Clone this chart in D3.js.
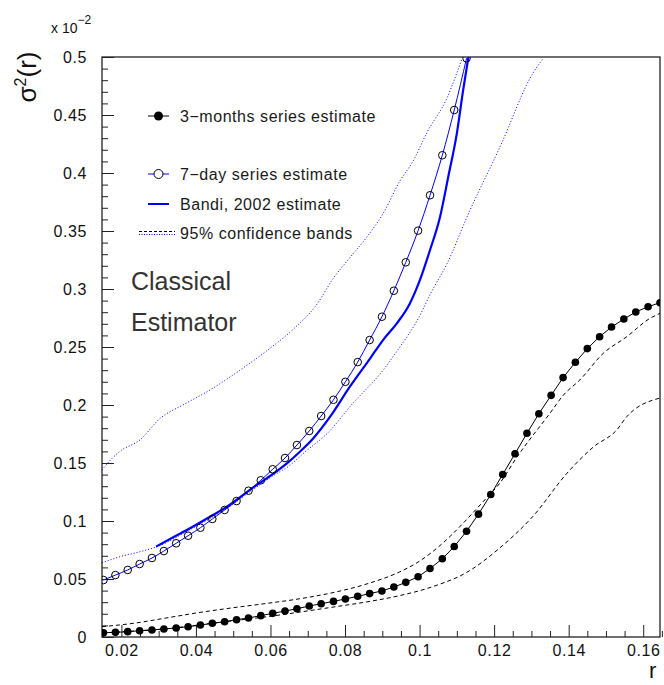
<!DOCTYPE html>
<html><head><meta charset="utf-8">
<script src="https://cdn.jsdelivr.net/npm/d3@7"></script>
<style>
body{margin:0;background:#fff}
text{font-family:"Liberation Sans",Arial,sans-serif;fill:#111}
</style>
</head><body>
<svg id="chart" width="664" height="685"></svg>
<script>
// ---------------- data (values in units of 10^-2) ----------------
const rGrid = [0.0152,0.0184,0.0217,0.0249,0.0282,0.0314,0.0347,0.0379,0.0412,0.0444,
  0.0477,0.0509,0.0541,0.0574,0.0606,0.0639,0.0671,0.0704,0.0736,0.0769,
  0.0801,0.0834,0.0866,0.0899,0.0931,0.0963,0.0996,0.1028,0.1061,0.1093,
  0.1126,0.1158,0.1191,0.1223,0.1256,0.1288,0.1320,0.1353,0.1385,0.1418,
  0.1450,0.1483,0.1515,0.1548,0.1580,0.1613,0.1645];

const monthsEstimate = [0.0037,0.0040,0.0046,0.0054,0.0060,0.0069,0.0078,0.0089,0.0103,0.0118,
  0.0132,0.0149,0.0164,0.0184,0.0204,0.0224,0.0244,0.0267,0.0287,0.0307,
  0.0328,0.0351,0.0374,0.0397,0.0431,0.0471,0.0520,0.0590,0.0674,0.0780,
  0.0911,0.1059,0.1228,0.1401,0.1580,0.1756,0.1925,0.2083,0.2236,0.2368,
  0.2486,0.2589,0.2672,0.2741,0.2802,0.2847,0.2882];

const dayEstimate = [0.0491,0.0534,0.0578,0.0629,0.0681,0.0741,0.0808,0.0873,0.0942,0.1017,
  0.1095,0.1172,0.1261,0.1351,0.1446,0.1543,0.1655,0.1776,0.1905,0.2045,
  0.2200,0.2370,0.2560,0.2761,0.2985,0.3230,0.3503,0.3808,0.4153,0.4543,0.4989];

const bandiR = [0.0293,0.0339,0.0384,0.0438,0.0483,0.0518,0.0554,0.0590,0.0644,0.0679,
  0.0715,0.0760,0.0813,0.0867,0.0902,0.0939,0.0974,0.1001,0.1028,0.1055,
  0.1077,0.1100,0.1117,0.1131];
const bandiEstimate = [0.0779,0.0860,0.0937,0.1037,0.1123,0.1204,0.1290,0.1368,0.1497,0.1597,
  0.1713,0.1899,0.2158,0.2400,0.2560,0.2704,0.2876,0.3078,0.3336,0.3623,
  0.3968,0.4342,0.4716,0.5000];

const monthsUpperR = [0.0148,0.0237,0.0322,0.0411,0.0499,0.0591,0.0679,0.0768,0.0859,0.0947,
  0.0993,0.1036,0.1082,0.1127,0.1170,0.1216,0.1261,0.1350,0.1386,0.1430,0.1493,0.1556,0.1618,0.1645];
const monthsUpper = [0.0089,0.0120,0.0165,0.0212,0.0252,0.0290,0.0330,0.0383,0.0458,0.0562,
  0.0640,0.0738,0.0868,0.1015,0.1165,0.1330,0.1550,0.1930,0.2086,0.2216,0.2446,0.2589,0.2747,0.2790];

const monthsLowerR = [0.0148,0.0229,0.0322,0.0411,0.0499,0.0591,0.0679,0.0768,0.0859,0.0947,
  0.1036,0.1127,0.1216,0.1304,0.1395,0.1467,0.1529,0.1556,0.1645];
const monthsLower = [0.0035,0.0050,0.0072,0.0105,0.0140,0.0175,0.0215,0.0258,0.0303,0.0357,
  0.0435,0.0558,0.0770,0.1040,0.1410,0.1640,0.1785,0.1900,0.2060];

const dayUpperR = [0.0148,0.0169,0.0196,0.0250,0.0304,0.0365,0.0438,0.0518,0.0591,0.0660,
  0.0725,0.0768,0.0813,0.0859,0.0902,0.0947,0.0982,0.1020,0.1074,0.1114];
const dayUpper = [0.144,0.152,0.160,0.170,0.1885,0.200,0.213,0.230,0.247,0.265,
  0.287,0.309,0.327,0.345,0.365,0.393,0.410,0.435,0.465,0.4989];

const dayLowerR = [0.0148,0.0196,0.0250,0.0296,0.0384,0.0483,0.0553,0.0607,0.0652,0.0687,
  0.0760,0.0813,0.0902,0.0947,0.0992,0.1036,0.1074,0.1127,0.1216,0.1304,0.1332];
const dayLower = [0.064,0.0692,0.0735,0.0779,0.0925,0.111,0.127,0.139,0.148,0.158,
  0.178,0.1985,0.230,0.250,0.272,0.300,0.322,0.362,0.4227,0.486,0.4989];

const xTickValues = [0.02,0.04,0.06,0.08,0.10,0.12,0.14,0.16];
const xTickLabels = ["0.02","0.04","0.06","0.08","0.1","0.12","0.14","0.16"];
const yTickValues = [0,0.05,0.10,0.15,0.20,0.25,0.30,0.35,0.40,0.45,0.50];
const yTickLabels = ["0","0.05","0.1","0.15","0.2","0.25","0.3","0.35","0.4","0.45","0.5"];
const legendLabels = ["3\u2212months series estimate","7\u2212day series estimate","Bandi, 2002 estimate","95% confidence bands"];

// ---------------- layout ----------------
const svg = d3.select("#chart");
const L = 102, R = 660, T = 57, B = 637;
const x = d3.scaleLinear().domain([0.0148, 0.1645]).range([L, R]);
const y = d3.scaleLinear().domain([0, 0.5]).range([B, T]);
const BLUE = "#0000ff";

svg.append("rect").attr("width",664).attr("height",685).attr("fill","#fff");

svg.append("clipPath").attr("id","clip").append("rect")
  .attr("x",L).attr("y",T).attr("width",R-L).attr("height",B-T);

// axes
const xMinor = d3.range(0.015, 0.1651, 0.005).filter(v => !xTickValues.some(t => Math.abs(t-v) < 1e-6));
const yMinor = d3.range(0, 0.5001, 0.01).filter(v => !yTickValues.some(t => Math.abs(t-v) < 1e-6));

const gx = svg.append("g").attr("transform",`translate(0,${B})`)
  .call(d3.axisBottom(x).tickValues(xTickValues).tickSizeInner(-12).tickSizeOuter(0).tickPadding(8)
    .tickFormat((d,i) => xTickLabels[i]));
const gxm = svg.append("g").attr("transform",`translate(0,${B})`)
  .call(d3.axisBottom(x).tickValues(xMinor).tickSizeInner(-6).tickSizeOuter(0).tickFormat(""));
const gy = svg.append("g").attr("transform",`translate(${L},0)`)
  .call(d3.axisLeft(y).tickValues(yTickValues).tickSizeInner(-12).tickSizeOuter(0).tickPadding(15)
    .tickFormat((d,i) => yTickLabels[i]));
const gym = svg.append("g").attr("transform",`translate(${L},0)`)
  .call(d3.axisLeft(y).tickValues(yMinor).tickSizeInner(-6).tickSizeOuter(0).tickFormat(""));
[gx,gxm,gy,gym].forEach(g => {
  g.select(".domain").remove();
  g.selectAll(".tick line").attr("stroke","#222").attr("stroke-width",1);
  g.selectAll("text").attr("font-size",16).attr("letter-spacing","0.6px").attr("fill","#1a1a1a")
    .attr("font-family","Liberation Sans, Arial, sans-serif");
});

// frame
svg.append("rect").attr("x",L).attr("y",T).attr("width",R-L).attr("height",B-T)
  .attr("fill","none").attr("stroke","#222").attr("stroke-width",1.3);

const plot = svg.append("g").attr("clip-path","url(#clip)");

const pairs = (rs, vs) => rs.map((r,i) => [r, vs[i]]);
const smooth = d3.line().x(d => x(d[0])).y(d => y(d[1])).curve(d3.curveMonotoneX);
const straight = d3.line().x(d => x(d[0])).y(d => y(d[1]));

// confidence bands
plot.append("path").attr("d", smooth(pairs(monthsUpperR, monthsUpper)))
  .attr("fill","none").attr("stroke","#000").attr("stroke-width",1).attr("stroke-dasharray","4,3");
plot.append("path").attr("d", smooth(pairs(monthsLowerR, monthsLower)))
  .attr("fill","none").attr("stroke","#000").attr("stroke-width",1).attr("stroke-dasharray","4,3");
plot.append("path").attr("d", smooth(pairs(dayUpperR, dayUpper)))
  .attr("fill","none").attr("stroke",BLUE).attr("stroke-width",1).attr("stroke-dasharray","1,2");
plot.append("path").attr("d", smooth(pairs(dayLowerR, dayLower)))
  .attr("fill","none").attr("stroke",BLUE).attr("stroke-width",1).attr("stroke-dasharray","1,2");

// Bandi estimate
plot.append("path").attr("d", smooth(pairs(bandiR, bandiEstimate)))
  .attr("fill","none").attr("stroke",BLUE).attr("stroke-width",2.2);

// 7-day series
const dayPts = dayEstimate.map((v,i) => [rGrid[i], v]);
plot.append("path").attr("d", smooth(dayPts))
  .attr("fill","none").attr("stroke",BLUE).attr("stroke-width",1);
plot.selectAll("circle.day").data(dayPts).join("circle").attr("class","day")
  .attr("cx", d => x(d[0])).attr("cy", d => y(d[1])).attr("r",3.8)
  .attr("fill","none").attr("stroke","#000").attr("stroke-width",1);

// 3-months series
const monPts = monthsEstimate.map((v,i) => [rGrid[i], v]);
plot.append("path").attr("d", straight(monPts))
  .attr("fill","none").attr("stroke","#000").attr("stroke-width",1);
plot.selectAll("circle.mon").data(monPts).join("circle").attr("class","mon")
  .attr("cx", d => x(d[0])).attr("cy", d => y(d[1])).attr("r",3.8)
  .attr("fill","#000");

// legend
const lg = svg.append("g");
const lgText = (yy, i) => lg.append("text").attr("x",180).attr("y",yy).attr("dy","0.36em")
  .attr("font-size",16).attr("letter-spacing","0.55px").style("fill","#1a1a1a").text(legendLabels[i]);
lg.append("line").attr("x1",148).attr("x2",169).attr("y1",116).attr("y2",116).attr("stroke","#000");
lg.append("circle").attr("cx",158.5).attr("cy",116).attr("r",4.5).attr("fill","#000");
lgText(116,0);
lg.append("line").attr("x1",148).attr("x2",169).attr("y1",174).attr("y2",174).attr("stroke",BLUE);
lg.append("circle").attr("cx",158.5).attr("cy",174).attr("r",4.5).attr("fill","#fff").attr("stroke","#000");
lgText(174,1);
lg.append("line").attr("x1",148).attr("x2",169).attr("y1",204).attr("y2",204).attr("stroke",BLUE).attr("stroke-width",2);
lgText(204,2);
lg.append("line").attr("x1",139).attr("x2",175).attr("y1",231.5).attr("y2",231.5).attr("stroke","#000").attr("stroke-dasharray","3,2");
lg.append("line").attr("x1",139).attr("x2",175).attr("y1",234.5).attr("y2",234.5).attr("stroke",BLUE).attr("stroke-dasharray","1,1.5");
lgText(233,3);

// big label
svg.append("text").attr("x",131).attr("y",290).attr("font-size",25)
  .attr("font-family","DejaVu Sans, sans-serif").attr("font-weight",200)
  .style("fill","#333").text("Classical");
svg.append("text").attr("x",131).attr("y",331).attr("font-size",25)
  .attr("font-family","DejaVu Sans, sans-serif").attr("font-weight",200)
  .style("fill","#333").text("Estimator");

// axis titles
svg.append("text").attr("x",649).attr("y",678).attr("font-size",22).text("r");
const yt = svg.append("text").attr("transform","translate(36,77) rotate(-90)")
  .attr("text-anchor","middle").attr("font-size",26);
yt.append("tspan").text("\u03c3");
yt.append("tspan").attr("dy",-10).attr("font-size",16).text("2");
yt.append("tspan").attr("dy",10).text("(r)");

const ex = svg.append("text").attr("x",51).attr("y",33).attr("font-size",14);
ex.append("tspan").text("x 10");
ex.append("tspan").attr("dy",-9).attr("font-size",12).text("\u22122");
</script>
</body></html>
